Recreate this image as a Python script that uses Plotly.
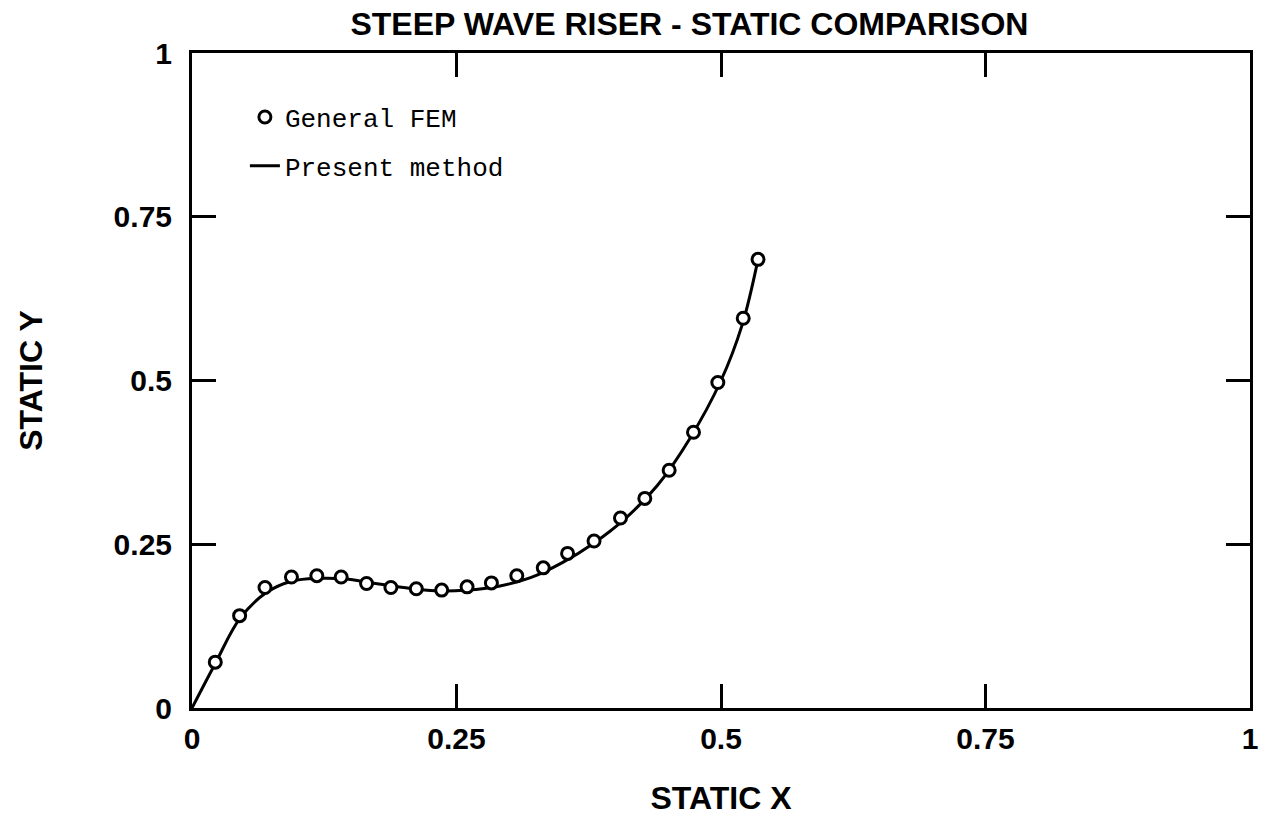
import plotly.graph_objects as go

# FEM points (General FEM)
fem_x = [0.022, 0.045, 0.069, 0.094, 0.118, 0.141, 0.165, 0.188, 0.212, 0.236,
         0.260, 0.283, 0.307, 0.332, 0.355, 0.380, 0.405, 0.428, 0.451, 0.474,
         0.497, 0.521, 0.535]
fem_y = [0.070, 0.141, 0.184, 0.200, 0.202, 0.200, 0.190, 0.184, 0.182, 0.180,
         0.185, 0.191, 0.202, 0.214, 0.236, 0.255, 0.290, 0.320, 0.363, 0.421,
         0.497, 0.595, 0.685]

# Present method curve
line_x = [0.0, 0.022, 0.045, 0.070, 0.095, 0.120, 0.145, 0.170, 0.200, 0.230,
          0.260, 0.290, 0.320, 0.350, 0.380, 0.410, 0.440, 0.470, 0.500, 0.520, 0.535]
line_y = [0.0, 0.068, 0.136, 0.176, 0.194, 0.198, 0.197, 0.191, 0.184, 0.179,
          0.180, 0.186, 0.199, 0.222, 0.252, 0.290, 0.340, 0.410, 0.500, 0.585, 0.685]

tick_vals = [0, 0.25, 0.5, 0.75, 1]
tick_text = ["0", "0.25", "0.5", "0.75", "1"]

SANS = "Liberation Sans, Arial, Helvetica"

fig = go.Figure()
fig.add_trace(go.Scatter(
    x=line_x, y=line_y, mode="lines", name="Present method",
    line=dict(color="black", width=3, shape="spline"),
    legendgroup="b", legendrank=2,
))
fig.add_trace(go.Scatter(
    x=fem_x, y=fem_y, mode="markers", name="General FEM",
    marker=dict(symbol="circle", size=12, color="white",
                line=dict(color="black", width=3)),
    legendgroup="a", legendrank=1,
))

axis_common = dict(
    range=[0, 1], tickvals=tick_vals, ticktext=tick_text,
    showline=True, linecolor="black", linewidth=3, mirror="ticks",
    ticks="inside", ticklen=24, tickwidth=2.5, tickcolor="black",
    showgrid=False, zeroline=False, automargin=False,
    tickfont=dict(family=SANS, size=30, color="black", weight="bold"),
)

fig.update_layout(
    width=1265, height=816,
    margin=dict(l=192, r=15, t=53, b=108, autoexpand=False),
    paper_bgcolor="white", plot_bgcolor="white",
    title=dict(
        text="STEEP WAVE RISER - STATIC COMPARISON",
        x=0.545, xanchor="center", y=0.971, yanchor="middle",
        font=dict(family=SANS, size=32, color="black", weight="bold"),
    ),
    xaxis=dict(**axis_common, ticklabelstandoff=2,
               title=dict(text="STATIC X", standoff=36,
                          font=dict(family=SANS, size=32,
                                    color="black", weight="bold"))),
    yaxis=dict(**axis_common, ticklabelstandoff=11,
               title=dict(text="STATIC Y", standoff=62,
                          font=dict(family=SANS, size=32,
                                    color="black", weight="bold"))),
    showlegend=True,
    legend=dict(
        x=0.05, y=0.938, xanchor="left", yanchor="top",
        bgcolor="rgba(0,0,0,0)", traceorder="grouped", tracegroupgap=12,
        font=dict(family="Liberation Mono, DejaVu Sans Mono, monospace", size=26, color="black"),
        itemwidth=30,
    ),
)

fig.write_html("out.html")
